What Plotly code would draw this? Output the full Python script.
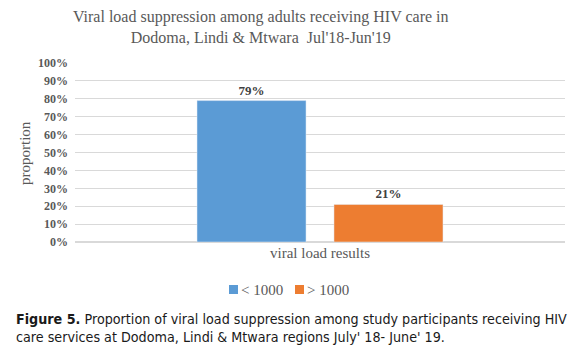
import plotly.graph_objects as go

category = ["viral load results"]
series_names = ["< 1000", "> 1000"]
series_values = [[0.79], [0.21]]
series_colors = ["#5B9BD5", "#ED7D31"]
data_labels = [["79%"], ["21%"]]
y_tick_values = [0, 0.1, 0.2, 0.3, 0.4, 0.5, 0.6, 0.7, 0.8, 0.9, 1.0]
y_tick_labels = ["0%", "10%", "20%", "30%", "40%", "50%", "60%", "70%", "80%", "90%", "100%"]

SERIF = "Liberation Serif"

fig = go.Figure()
for name, vals, col, lab in zip(series_names, series_values, series_colors, data_labels):
    fig.add_trace(go.Bar(
        x=category, y=vals, name=name, marker_color=col,
        text=lab, textposition="outside", cliponaxis=False,
        textfont=dict(family=SERIF, size=13, color="#404040"),
        texttemplate="<b>%{text}</b>", showlegend=False,
    ))

W, H = 574, 356
L, R, T, B = 75, 9, 63, 114
pw, ph = W - L - R, H - T - B

def px(x):
    return (x - L) / pw

def py(y):
    return (H - B - y) / ph

fig.update_layout(
    width=W, height=H,
    margin=dict(l=L, r=R, t=T, b=B, autoexpand=False),
    paper_bgcolor="white", plot_bgcolor="white",
    barmode="group", bargap=0.441, bargroupgap=0.204,
    xaxis=dict(showticklabels=False, showgrid=False, zeroline=False, showline=False,
               range=[-0.5, 0.5]),
    yaxis=dict(range=[0, 1], tickmode="array", tickvals=y_tick_values,
               ticktext=["<b>%s</b>" % t for t in y_tick_labels], showgrid=True,
               gridcolor="#D9D9D9", gridwidth=1, zeroline=True, zerolinecolor="#D9D9D9",
               showline=False, ticks="", ticklabelstandoff=6,
               tickfont=dict(family=SERIF, size=12, color="#595959")),
    font=dict(family=SERIF),
)

annotations = [
    dict(text="Viral load suppression among adults receiving HIV care in<br>Dodoma, Lindi &amp; Mtwara  Jul'18-Jun'19",
         x=px(261), y=py(27), xanchor="center", yanchor="middle",
         font=dict(family=SERIF, size=16, color="#595959")),
    dict(text="viral load results", x=px(320), y=py(253), xanchor="center", yanchor="middle",
         font=dict(family=SERIF, size=15, color="#595959")),
    dict(text="proportion", x=px(25), y=py(153), xanchor="center", yanchor="middle", textangle=-90,
         font=dict(family=SERIF, size=15, color="#595959")),
    dict(text="<b>Figure 5.</b> Proportion of viral load suppression among study participants receiving HIV<br>care services at Dodoma, Lindi &amp; Mtwara regions July' 18- June' 19.",
         x=px(14), y=py(328), xanchor="left", yanchor="middle", align="left",
         font=dict(family="DejaVu Sans Condensed, Roboto", size=14.2, color="#1a1a1a")),
]

# manual legend (swatch + label) matching the reference's compact layout
legend_swatch_x = [229, 295]
for name, col, sx in zip(series_names, series_colors, legend_swatch_x):
    fig.add_shape(type="rect", xref="paper", yref="paper",
                  x0=px(sx), x1=px(sx + 9), y0=py(294), y1=py(285),
                  fillcolor=col, line=dict(width=0))
    annotations.append(dict(text=name, x=px(sx + 10), y=py(289.5), xanchor="left", yanchor="middle",
                            font=dict(family=SERIF, size=15, color="#595959")))

for a in annotations:
    a.update(xref="paper", yref="paper", showarrow=False)
    fig.add_annotation(**a)

fig.write_html("out.html", config={"displayModeBar": False},
               post_script="document.body.style.margin='0';document.body.style.padding='0';")
